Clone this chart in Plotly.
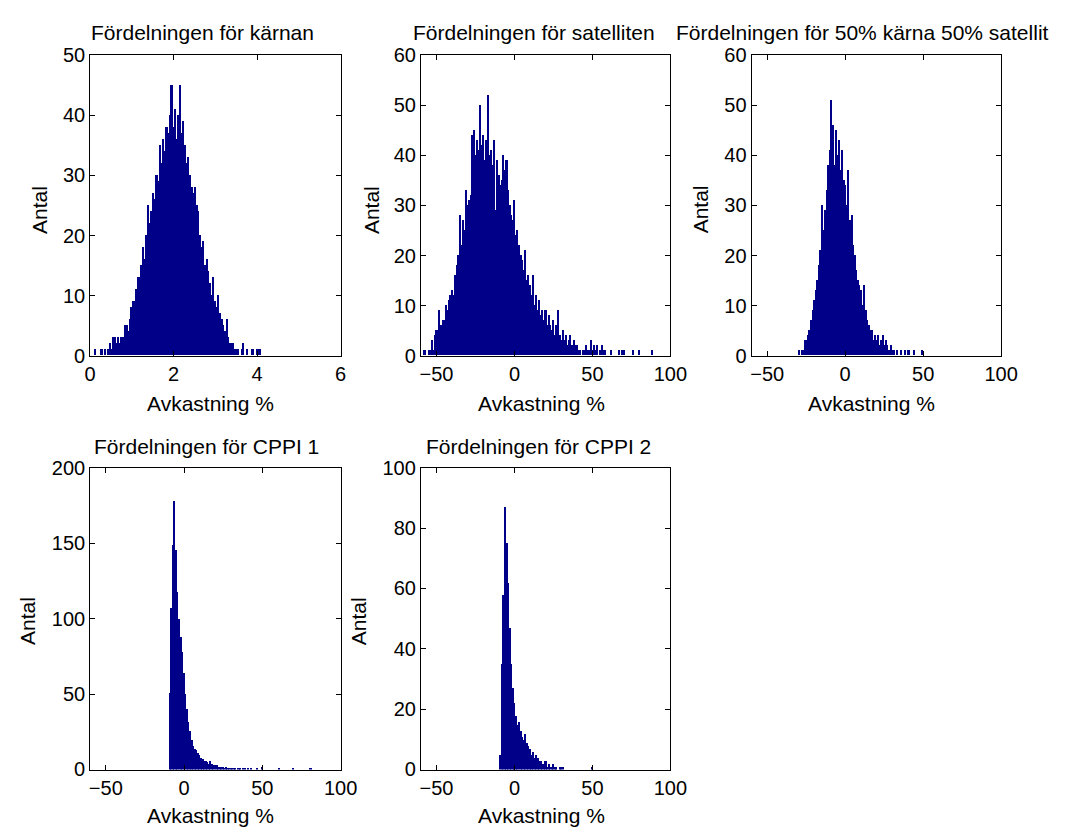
import plotly.graph_objects as go

W, H = 1069, 836

# ---------------- data (bin centres start, bin width, counts) ----------------
core_start, core_width = 0.12, 0.04
core_counts = [1, 0, 0, 0, 1, 0, 1, 0, 1, 2,
               1, 3, 3, 2, 3, 2, 3, 3, 5, 5,
               4, 6, 8, 9, 9, 11, 13, 13, 15, 18,
               16, 20, 25, 22, 24, 27, 26, 30, 29, 35,
               32, 36, 34, 38, 37, 40, 45, 38, 41, 36,
               40, 45, 37, 39, 35, 32, 33, 30, 28, 27,
               28, 25, 24, 20, 18, 19, 15, 16, 14, 12,
               10, 13, 9, 8, 10, 7, 6, 5, 4, 6,
               3, 2, 2, 2, 1, 1, 1, 0, 1, 2,
               0, 1, 0, 0, 1, 1, 0, 1, 1, 1]

sat_start, sat_width = -58, 1.0
sat_counts = [1, 1, 0, 1, 1, 3, 1, 4, 5, 5,
              9, 6, 7, 7, 10, 9, 11, 12, 13, 12,
              16, 18, 20, 28, 22, 27, 25, 33, 30, 31,
              32, 44, 45, 40, 43, 41, 50, 42, 44, 39,
              43, 52, 40, 41, 38, 43, 29, 39, 36, 34,
              35, 40, 37, 39, 33, 30, 28, 27, 31, 24,
              25, 22, 20, 19, 17, 21, 15, 16, 14, 12,
              16, 10, 12, 9, 11, 8, 9, 7, 9, 6,
              8, 6, 5, 7, 4, 6, 9, 4, 3, 5,
              3, 4, 2, 3, 4, 2, 3, 2, 2, 1,
              1, 0, 1, 1, 2, 1, 1, 3, 1, 2,
              1, 2, 0, 1, 2, 1, 1, 0, 0, 0,
              1, 0, 0, 0, 0, 1, 0, 1, 1, 0,
              0, 0, 0, 0, 1, 0, 0, 0, 1, 0,
              0, 0, 0, 0, 0, 0, 1]

mix_start, mix_width = -30, 1.0
mix_counts = [1, 0, 1, 1, 3, 3, 4, 5, 7, 9,
              11, 13, 15, 18, 21, 30, 25, 29, 33, 38,
              41, 51, 46, 38, 45, 40, 43, 37, 41, 35,
              34, 30, 37, 27, 28, 22, 20, 17, 15, 14,
              13, 10, 14, 9, 7, 6, 5, 5, 3, 4,
              3, 4, 2, 3, 4, 2, 3, 2, 1, 2,
              1, 1, 0, 1, 0, 0, 1, 0, 1, 0,
              1, 1, 0, 0, 1, 0, 0, 0, 0, 1]

cppi1_start, cppi1_width = -9, 1.0
cppi1_counts = [51, 107, 149, 178, 146, 118, 100, 88, 78, 64,
                50, 40, 32, 26, 20, 16, 14, 13, 11, 10,
                8, 7, 6, 6, 5, 4, 6, 4, 3, 3,
                3, 2, 2, 2, 2, 1, 2, 1, 1, 1,
                1, 1, 1, 0, 1, 1, 0, 1, 1, 0,
                1, 0, 1, 0, 0, 0, 1, 0, 0, 2,
                0, 0, 0, 0, 0, 0, 0, 0, 0, 0,
                1, 0, 0, 0, 0, 0, 0, 0, 0, 1,
                0, 0, 0, 0, 0, 0, 0, 0, 0, 0, 1]

cppi2_start, cppi2_width = -9, 1.0
cppi2_counts = [5, 35, 58, 87, 75, 62, 47, 35, 27, 22,
                18, 15, 16, 13, 11, 10, 12, 9, 8, 7,
                5, 6, 4, 5, 4, 3, 3, 2, 2, 3,
                1, 2, 1, 1, 2, 1, 1, 0, 1, 1,
                1, 0, 0, 0, 0, 0, 0, 0, 0, 0,
                0, 0, 0, 0, 0, 0, 0, 0, 0, 1]

titles = ["Fördelningen för kärnan", "Fördelningen för satelliten",
          "Fördelningen för 50% kärna 50% satellit",
          "Fördelningen för CPPI 1", "Fördelningen för CPPI 2"]
xlabel = "Avkastning %"
ylabel = "Antal"

series = [(core_start, core_width, core_counts),
          (sat_start, sat_width, sat_counts),
          (mix_start, mix_width, mix_counts),
          (cppi1_start, cppi1_width, cppi1_counts),
          (cppi2_start, cppi2_width, cppi2_counts)]

# ---------------- layout geometry (pixels) ----------------
panels = [
    dict(x0=86, x1=342, y0=45.5, y1=354, xr=[0, 6], xt=[0, 2, 4, 6], yr=[0, 50], yt=[0, 10, 20, 30, 40, 50],
         tx=201, ty=22, lx=209, ly=403, yx=34, yy=204),
    dict(x0=424, x1=679, y0=45.5, y1=354, xr=[-60, 100], xt=[-50, 0, 50, 100], yr=[0, 60], yt=[0, 10, 20, 30, 40, 50, 60],
         tx=540, ty=22, lx=547, ly=403, yx=373.5, yy=204),
    dict(x0=762, x1=1017, y0=45.5, y1=354, xr=[-60, 100], xt=[-50, 0, 50, 100], yr=[0, 60], yt=[0, 10, 20, 30, 40, 50, 60],
         tx=875, ty=22, lx=885, ly=403, yx=710, yy=204),
    dict(x0=86, x1=342, y0=469, y1=779, xr=[-60, 100], xt=[-50, 0, 50, 100], yr=[0, 200], yt=[0, 50, 100, 150, 200],
         tx=205, ty=447, lx=209, ly=826, yx=21.5, yy=626.5),
    dict(x0=424, x1=679, y0=469, y1=779, xr=[-60, 100], xt=[-50, 0, 50, 100], yr=[0, 100], yt=[0, 20, 40, 60, 80, 100],
         tx=544, ty=447, lx=547, ly=826, yx=360, yy=626.5),
]

FONT = "Liberation Sans, Arial, sans-serif"
BAR = "#000088"

def px(x):
    return x / W

def py(y):
    return 1 - y / H

fig = go.Figure()
layout = dict(width=W, height=H, margin=dict(l=0, r=0, t=0, b=0),
              paper_bgcolor="white", plot_bgcolor="white", showlegend=False,
              bargap=0, font=dict(family=FONT, size=20, color="black"))
annotations = []

for i, ((start, width, counts), p) in enumerate(zip(series, panels)):
    n = i + 1
    suffix = "" if n == 1 else str(n)
    centers = [start + k * width for k in range(len(counts))]
    fig.add_trace(go.Bar(x=centers, y=counts, width=width,
                         marker=dict(color=BAR, line=dict(width=0)),
                         xaxis="x" + suffix, yaxis="y" + suffix, hoverinfo="x+y"))
    common = dict(showline=True, linecolor="black", linewidth=1, mirror="ticks",
                  ticks="inside", ticklen=5, tickcolor="black", tickwidth=1,
                  showgrid=False, zeroline=False, fixedrange=True,
                  tickfont=dict(family=FONT, size=20, color="black"))
    layout["xaxis" + suffix] = dict(common, domain=[px(p["x0"]), px(p["x1"])], range=p["xr"],
                                    tickvals=p["xt"], anchor="y" + suffix, ticklabelstandoff=0)
    layout["yaxis" + suffix] = dict(common, domain=[py(p["y1"]), py(p["y0"])], range=p["yr"],
                                    tickvals=p["yt"], anchor="x" + suffix, ticklabelstandoff=0)
    annotations.append(dict(text=titles[i], x=px(p["tx"]), y=py(p["ty"]), xref="paper", yref="paper",
                            xanchor="center", yanchor="middle", showarrow=False,
                            font=dict(family=FONT, size=21, color="black")))
    annotations.append(dict(text=xlabel, x=px(p["lx"]), y=py(p["ly"]), xref="paper", yref="paper",
                            xanchor="center", yanchor="middle", showarrow=False,
                            font=dict(family=FONT, size=21, color="black")))
    annotations.append(dict(text=ylabel, x=px(p["yx"]), y=py(p["yy"]), xref="paper", yref="paper",
                            xanchor="center", yanchor="middle", showarrow=False, textangle=-90,
                            font=dict(family=FONT, size=21, color="black")))

layout["annotations"] = annotations
fig.update_layout(**layout)
fig.write_html("out.html",
               post_script="document.body.style.margin='0';document.body.style.padding='0';"
                           "document.body.style.overflow='hidden';")
